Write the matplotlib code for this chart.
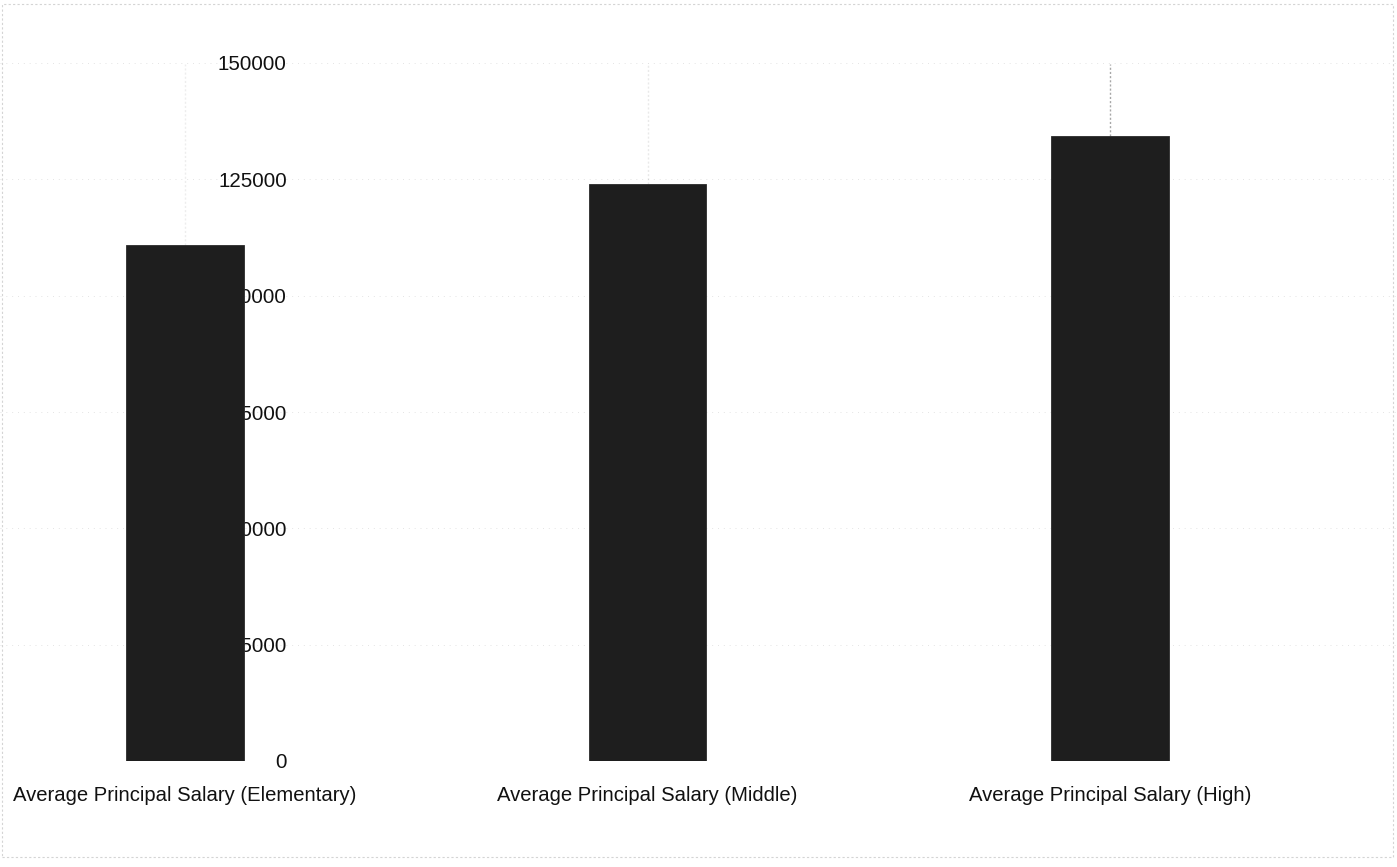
import matplotlib
matplotlib.use("Agg")
import matplotlib.pyplot as plt
import numpy as np

# Average principal salary by school level
categories = [
    "Average Principal Salary (Elementary)",
    "Average Principal Salary (Middle)",
    "Average Principal Salary (High)",
]
salaries = [110800, 123900, 134300]
err_upper = [39000, 26000, 15500]
yticks = [0, 25000, 50000, 75000, 100000, 125000, 150000]
ytick_labels = ["0", "25000", "50000", "75000", "100000", "125000", "150000"]

plt.rcParams["font.family"] = ["Liberation Sans", "DejaVu Sans"]

W, H = 1397, 867
fig = plt.figure(figsize=(W / 100, H / 100), dpi=100)
fig.patch.set_facecolor("white")

# axes spans the full width; the plot area runs from y=63px (150000) to y=761px (0)
y_top, y_zero = 63, 761
ax = fig.add_axes([0, (H - y_zero) / H, 1, (y_zero - y_top) / H])
px_per_unit = 462.5
x_left = -185 / px_per_unit
ax.set_xlim(x_left, x_left + W / px_per_unit)
ax.set_ylim(0, 150000)

x = np.arange(len(categories))
ax.set_axisbelow(True)

# very faint dotted gridlines
for t in yticks[1:]:
    ax.axhline(t, color="#e4e4e4", lw=0.7, ls=(0, (1, 5)), zorder=0.3)

bars = ax.bar(x, salaries, width=0.255, color="#1e1e1e", edgecolor="#2a2a2a",
              linewidth=0.6, zorder=2)

# upward-only error bars, pale and dotted
err_alpha = [0.15, 0.18, 0.75]
for xi, v, e, a in zip(x, salaries, err_upper, err_alpha):
    ax.errorbar(xi, v, yerr=[[0], [e]], fmt="none", ecolor="#8a8a8a",
                elinewidth=1.0, capsize=0, ls="none", alpha=a, zorder=1.5,
                clip_on=True)[2][0].set_linestyle((0, (1.5, 1.5)))

# value axis sits between the first two bars; labels are drawn beneath the bars
spine_x = (291 / px_per_unit) + x_left
ax.spines["left"].set_position(("data", spine_x))
ax.spines["left"].set_visible(False)
for s in ["top", "right", "bottom"]:
    ax.spines[s].set_visible(False)
ax.set_yticks(yticks)
ax.set_yticklabels(ytick_labels, fontsize=14.8, color="#111111")
ax.tick_params(axis="y", length=0, pad=3)
ax.set_xticks(x)
ax.set_xticklabels(categories, fontsize=14.6, color="#111111")
ax.tick_params(axis="x", length=0, pad=18)

# thin grey border of the sheet
border = plt.Rectangle((2 / W, 10 / H), (W - 6) / W, (H - 14) / H,
                       transform=fig.transFigure, fill=False,
                       edgecolor="#d4d4d4", lw=0.8, ls=(0, (2, 2)))
fig.patches.append(border)

fig.savefig("out.png", dpi=100, facecolor="white")
